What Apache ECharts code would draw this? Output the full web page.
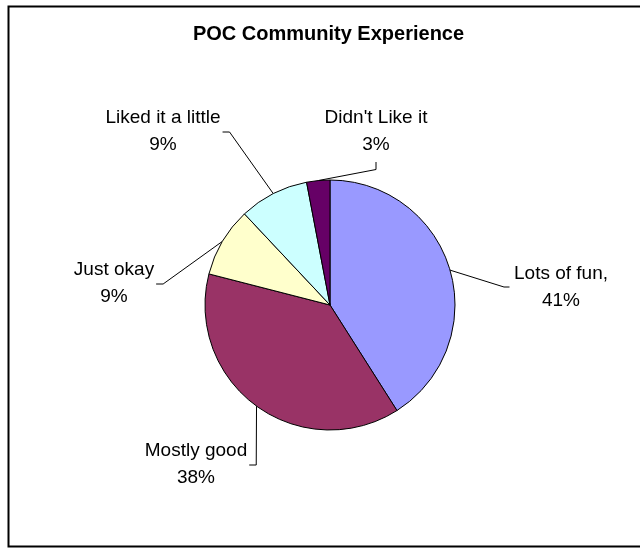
<!DOCTYPE html>
<html>
<head>
<meta charset="utf-8">
<script src="https://cdn.jsdelivr.net/npm/echarts@6/dist/echarts.min.js"></script>
<style>
  html, body { margin: 0; padding: 0; background: #fff; }
  #chart { width: 640px; height: 548px; }
</style>
</head>
<body>
<div id="chart"></div>
<script>
// ---- data ----
const categories = ['Lots of fun,', 'Mostly good', 'Just okay', 'Liked it a little', "Didn't Like it"];
const percentValues = [41, 38, 9, 9, 3];
const sliceColors = ['#9999FF', '#993366', '#FFFFCC', '#CCFFFF', '#660066'];

// ---- layout (label block centres and which side the leader line attaches to) ----
const labelAnchors = [[561, 287], [196, 464], [114, 283], [163, 131], [376, 131]];
const labelSides = ['left', 'right', 'right', 'right', 'bottom'];

const chart = echarts.init(document.getElementById('chart'), null, { renderer: 'canvas' });

const FONT = "'Liberation Sans', Arial, Helvetica, sans-serif";

chart.setOption({
  animation: false,
  backgroundColor: '#ffffff',
  title: {
    text: 'POC Community Experience',
    left: 328.5,
    top: 34,
    padding: 0,
    textAlign: 'center',
    textVerticalAlign: 'middle',
    textStyle: { fontFamily: FONT, fontSize: 20, fontWeight: 'bold', color: '#000' }
  },
  graphic: [{
    type: 'rect',
    shape: { x: 8.5, y: 6.5, width: 640, height: 540 },
    style: { fill: 'none', stroke: '#000', lineWidth: 2 },
    silent: true
  }],
  series: [{
    type: 'pie',
    center: [330, 305],
    radius: 125,
    startAngle: 90,
    clockwise: true,
    avoidLabelOverlap: false,
    data: categories.map((c, i) => ({
      name: c,
      value: percentValues[i],
      itemStyle: { color: sliceColors[i] }
    })),
    itemStyle: { borderColor: '#000', borderWidth: 1 },
    label: {
      show: true,
      position: 'outside',
      formatter: '{b}\n{c}%',
      fontFamily: FONT,
      fontSize: 19,
      lineHeight: 27,
      color: '#000'
    },
    labelLine: {
      show: true,
      length: 20,
      length2: 10,
      lineStyle: { color: '#000', width: 1 }
    },
    emphasis: { disabled: true },
    labelLayout: function (p) {
      const i = p.dataIndex;
      const a = labelAnchors[i];
      const w = p.labelRect.width;
      const h = p.labelRect.height;
      const s = p.labelLinePoints[0];
      const start = [s[0], s[1]];
      let end, elbow;
      const side = labelSides[i];
      if (side === 'left') {
        end = [a[0] - w / 2 - 4.5, a[1]];
        elbow = [end[0] - 5.5, a[1]];
      } else if (side === 'right') {
        end = [a[0] + w / 2 + 2, a[1] + 1];
        elbow = [end[0] + 7, a[1] + 1];
      } else {
        end = [a[0], a[1] + h / 2 + 4];
        elbow = [a[0], end[1] + 7.5];
      }
      return {
        x: a[0],
        y: a[1],
        align: 'center',
        verticalAlign: 'middle',
        labelLinePoints: [start, elbow, end]
      };
    }
  }]
});
</script>
</body>
</html>
